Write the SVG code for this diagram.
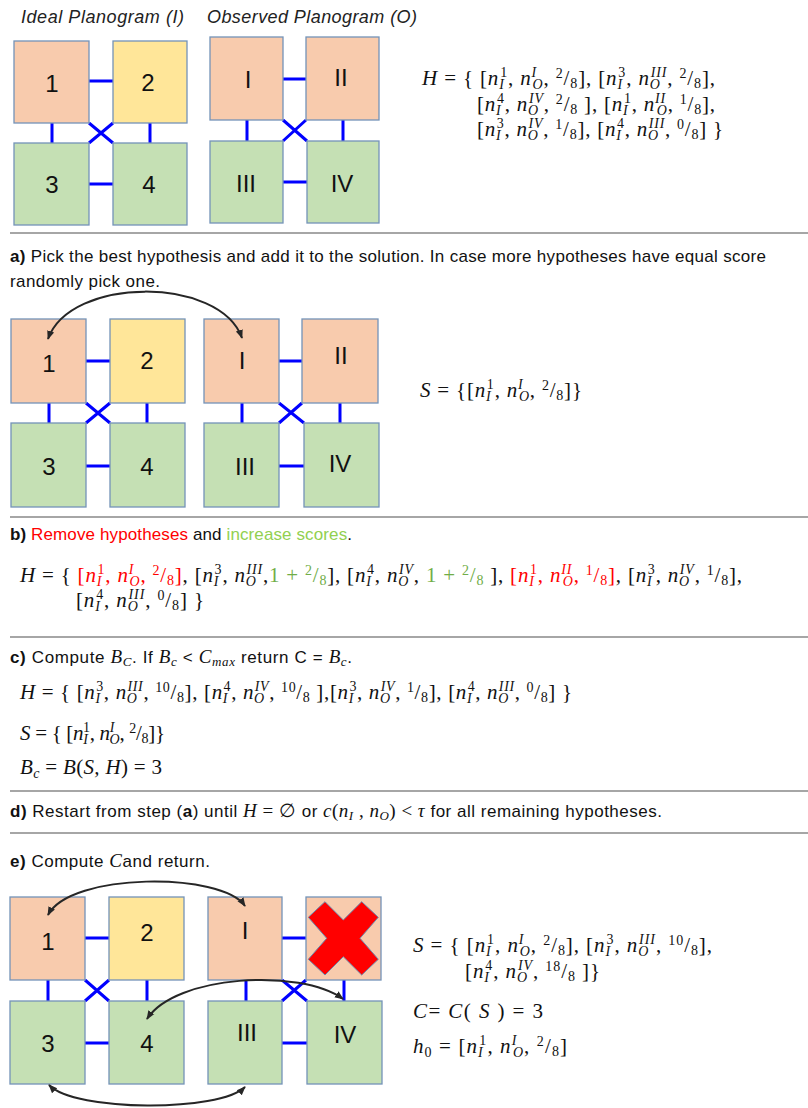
<svg xmlns="http://www.w3.org/2000/svg" width="808" height="1108" viewBox="0 0 808 1108">
<style>
.t{font-family:"Liberation Sans",Arial,sans-serif;font-size:17px;fill:#111}
.ti{font-family:"Liberation Sans",Arial,sans-serif;font-size:18px;font-style:italic;fill:#222}
.b{font-weight:bold}
.mi{font-family:"Liberation Serif","Times New Roman",serif;font-size:19px;font-style:italic}
.mf{font-family:"Liberation Serif","Times New Roman",serif;font-size:19px}
.m{font-family:"Liberation Serif","Times New Roman",serif;font-size:21px;fill:#111}
.i{font-style:italic}
.s{font-size:14px}
.ss{font-size:13px}
.r{fill:#FF0000}
.g{fill:#70AD47}
.g2{fill:#92D050}
.lbl{font-family:"Liberation Sans",Arial,sans-serif;font-size:24px;text-anchor:middle;fill:#111}
.o{fill:#F8CBAD;stroke:#7393B8;stroke-width:1.3}
.y{fill:#FFE699;stroke:#7393B8;stroke-width:1.3}
.gr{fill:#C5E0B4;stroke:#7393B8;stroke-width:1.3}
.lk{stroke:#0000FF;stroke-width:3;fill:none}
.ar{stroke:#262626;stroke-width:2;fill:none}
.sep{stroke:#A6A6A6;stroke-width:2}
</style>
<defs>
<marker id="ah" viewBox="0 0 10 10" refX="9" refY="5" markerWidth="9" markerHeight="9" markerUnits="userSpaceOnUse" orient="auto-start-reverse"><path d="M0,1 L10,5 L0,9 z" fill="#262626"/></marker>
</defs>

<g id="separators">
<line class="sep" x1="10" y1="233" x2="808" y2="233"/>
<line class="sep" x1="10" y1="517" x2="808" y2="517"/>
<line class="sep" x1="10" y1="637" x2="808" y2="637"/>
<line class="sep" x1="10" y1="791" x2="808" y2="791"/>
<line class="sep" x1="10" y1="833" x2="808" y2="833"/>
</g>

<text class="ti" x="21" y="23" textLength="163">Ideal Planogram (I)</text>
<text class="ti" x="207" y="23" textLength="210">Observed Planogram (O)</text>

<text class="m" x="422" y="85" textLength="293"><tspan class="i">H</tspan> = { [<tspan class="i">n</tspan><tspan class="s i" dy="4">I</tspan><tspan class="s" dx="-4.6" dy="-12">1</tspan><tspan dy="8">, </tspan><tspan class="i">n</tspan><tspan class="s i" dy="-8">I</tspan><tspan class="s i" dx="-4.6" dy="12">O</tspan><tspan dy="-4">, </tspan><tspan class="s" dy="-7">2</tspan><tspan dy="7">/</tspan><tspan class="s" dy="3">8</tspan><tspan dy="-3">], [</tspan><tspan class="i">n</tspan><tspan class="s i" dy="4">I</tspan><tspan class="s" dx="-4.6" dy="-12">3</tspan><tspan dy="8">, </tspan><tspan class="i">n</tspan><tspan class="s i" dy="4">O</tspan><tspan class="s i" dx="-10.1" dy="-12">III</tspan><tspan dy="8">, </tspan><tspan class="s" dy="-7">2</tspan><tspan dy="7">/</tspan><tspan class="s" dy="3">8</tspan><tspan dy="-3">],</tspan></text>
<text class="m" x="477" y="111" textLength="238">[<tspan class="i">n</tspan><tspan class="s i" dy="4">I</tspan><tspan class="s" dx="-4.6" dy="-12">4</tspan><tspan dy="8">, </tspan><tspan class="i">n</tspan><tspan class="s i" dy="4">O</tspan><tspan class="s i" dx="-10.1" dy="-12">IV</tspan><tspan dy="8">, </tspan><tspan class="s" dy="-7">2</tspan><tspan dy="7">/</tspan><tspan class="s" dy="3">8</tspan><tspan dy="-3"> ], [</tspan><tspan class="i">n</tspan><tspan class="s i" dy="4">I</tspan><tspan class="s" dx="-4.6" dy="-12">1</tspan><tspan dy="8">, </tspan><tspan class="i">n</tspan><tspan class="s i" dy="-8">II</tspan><tspan class="s i" dx="-9.3" dy="12">O</tspan><tspan dy="-4">, </tspan><tspan class="s" dy="-7">1</tspan><tspan dy="7">/</tspan><tspan class="s" dy="3">8</tspan><tspan dy="-3">],</tspan></text>
<text class="m" x="477" y="136" textLength="246">[<tspan class="i">n</tspan><tspan class="s i" dy="4">I</tspan><tspan class="s" dx="-4.6" dy="-12">3</tspan><tspan dy="8">, </tspan><tspan class="i">n</tspan><tspan class="s i" dy="4">O</tspan><tspan class="s i" dx="-10.1" dy="-12">IV</tspan><tspan dy="8">, </tspan><tspan class="s" dy="-7">1</tspan><tspan dy="7">/</tspan><tspan class="s" dy="3">8</tspan><tspan dy="-3">], [</tspan><tspan class="i">n</tspan><tspan class="s i" dy="4">I</tspan><tspan class="s" dx="-4.6" dy="-12">4</tspan><tspan dy="8">, </tspan><tspan class="i">n</tspan><tspan class="s i" dy="4">O</tspan><tspan class="s i" dx="-10.1" dy="-12">III</tspan><tspan dy="8">, </tspan><tspan class="s" dy="-7">0</tspan><tspan dy="7">/</tspan><tspan class="s" dy="3">8</tspan><tspan dy="-3">] }</tspan></text>

<text class="t" x="10" y="262" textLength="756"><tspan class="b">a)</tspan> Pick the best hypothesis and add it to the solution. In case more hypotheses have equal score</text>
<text class="t" x="10" y="287" textLength="150">randomly pick one.</text>

<text class="m" x="420" y="397" textLength="162"><tspan class="i">S</tspan> = {[<tspan class="i">n</tspan><tspan class="s i" dy="4">I</tspan><tspan class="s" dx="-4.6" dy="-12">1</tspan><tspan dy="8">, </tspan><tspan class="i">n</tspan><tspan class="s i" dy="-8">I</tspan><tspan class="s i" dx="-4.6" dy="12">O</tspan><tspan dy="-4">, </tspan><tspan class="s" dy="-7">2</tspan><tspan dy="7">/</tspan><tspan class="s" dy="3">8</tspan><tspan dy="-3">]}</tspan></text>

<text class="t" x="10" y="540" textLength="342"><tspan class="b">b)</tspan> <tspan class="r">Remove hypotheses</tspan> and <tspan class="g2">increase scores</tspan>.</text>

<text class="m" x="20" y="582" textLength="722"><tspan class="i">H</tspan> = { <tspan class="r">[<tspan class="i">n</tspan><tspan class="s i" dy="4">I</tspan><tspan class="s" dx="-4.6" dy="-12">1</tspan><tspan dy="8">, </tspan><tspan class="i">n</tspan><tspan class="s i" dy="-8">I</tspan><tspan class="s i" dx="-4.6" dy="12">O</tspan><tspan dy="-4">, </tspan><tspan class="s" dy="-7">2</tspan><tspan dy="7">/</tspan><tspan class="s" dy="3">8</tspan><tspan dy="-3">]</tspan></tspan>, [<tspan class="i">n</tspan><tspan class="s i" dy="4">I</tspan><tspan class="s" dx="-4.6" dy="-12">3</tspan><tspan dy="8">, </tspan><tspan class="i">n</tspan><tspan class="s i" dy="4">O</tspan><tspan class="s i" dx="-10.1" dy="-12">III</tspan><tspan dy="8">,</tspan><tspan class="g">1 + <tspan class="s" dy="-7">2</tspan><tspan dy="7">/</tspan><tspan class="s" dy="3">8</tspan></tspan><tspan dy="-3">], [</tspan><tspan class="i">n</tspan><tspan class="s i" dy="4">I</tspan><tspan class="s" dx="-4.6" dy="-12">4</tspan><tspan dy="8">, </tspan><tspan class="i">n</tspan><tspan class="s i" dy="4">O</tspan><tspan class="s i" dx="-10.1" dy="-12">IV</tspan><tspan dy="8">, </tspan><tspan class="g">1 + <tspan class="s" dy="-7">2</tspan><tspan dy="7">/</tspan><tspan class="s" dy="3">8</tspan></tspan><tspan dy="-3"> ], </tspan><tspan class="r">[<tspan class="i">n</tspan><tspan class="s i" dy="4">I</tspan><tspan class="s" dx="-4.6" dy="-12">1</tspan><tspan dy="8">, </tspan><tspan class="i">n</tspan><tspan class="s i" dy="-8">II</tspan><tspan class="s i" dx="-9.3" dy="12">O</tspan><tspan dy="-4">, </tspan><tspan class="s" dy="-7">1</tspan><tspan dy="7">/</tspan><tspan class="s" dy="3">8</tspan><tspan dy="-3">]</tspan></tspan>, [<tspan class="i">n</tspan><tspan class="s i" dy="4">I</tspan><tspan class="s" dx="-4.6" dy="-12">3</tspan><tspan dy="8">, </tspan><tspan class="i">n</tspan><tspan class="s i" dy="4">O</tspan><tspan class="s i" dx="-10.1" dy="-12">IV</tspan><tspan dy="8">, </tspan><tspan class="s" dy="-7">1</tspan><tspan dy="7">/</tspan><tspan class="s" dy="3">8</tspan><tspan dy="-3">],</tspan></text>
<text class="m" x="76" y="607" textLength="128">[<tspan class="i">n</tspan><tspan class="s i" dy="4">I</tspan><tspan class="s" dx="-4.6" dy="-12">4</tspan><tspan dy="8">, </tspan><tspan class="i">n</tspan><tspan class="s i" dy="4">O</tspan><tspan class="s i" dx="-10.1" dy="-12">III</tspan><tspan dy="8">, </tspan><tspan class="s" dy="-7">0</tspan><tspan dy="7">/</tspan><tspan class="s" dy="3">8</tspan><tspan dy="-3">] }</tspan></text>

<text class="t" x="10" y="663" textLength="342"><tspan class="b">c)</tspan> Compute <tspan class="mi">B</tspan><tspan class="mi ss" dy="3">C</tspan><tspan dy="-3">. If </tspan><tspan class="mi">B</tspan><tspan class="mi ss" dy="3">c</tspan><tspan dy="-3"> &lt; </tspan><tspan class="mi">C</tspan><tspan class="mi ss" dy="3">max</tspan><tspan dy="-3"> return C = </tspan><tspan class="mi">B</tspan><tspan class="mi ss" dy="3">c</tspan><tspan dy="-3">.</tspan></text>

<text class="m" x="20" y="699" textLength="552"><tspan class="i">H</tspan> = { [<tspan class="i">n</tspan><tspan class="s i" dy="4">I</tspan><tspan class="s" dx="-4.6" dy="-12">3</tspan><tspan dy="8">, </tspan><tspan class="i">n</tspan><tspan class="s i" dy="4">O</tspan><tspan class="s i" dx="-10.1" dy="-12">III</tspan><tspan dy="8">, </tspan><tspan class="s" dy="-7">10</tspan><tspan dy="7">/</tspan><tspan class="s" dy="3">8</tspan><tspan dy="-3">], [</tspan><tspan class="i">n</tspan><tspan class="s i" dy="4">I</tspan><tspan class="s" dx="-4.6" dy="-12">4</tspan><tspan dy="8">, </tspan><tspan class="i">n</tspan><tspan class="s i" dy="4">O</tspan><tspan class="s i" dx="-10.1" dy="-12">IV</tspan><tspan dy="8">, </tspan><tspan class="s" dy="-7">10</tspan><tspan dy="7">/</tspan><tspan class="s" dy="3">8</tspan><tspan dy="-3"> ],[</tspan><tspan class="i">n</tspan><tspan class="s i" dy="4">I</tspan><tspan class="s" dx="-4.6" dy="-12">3</tspan><tspan dy="8">, </tspan><tspan class="i">n</tspan><tspan class="s i" dy="4">O</tspan><tspan class="s i" dx="-10.1" dy="-12">IV</tspan><tspan dy="8">, </tspan><tspan class="s" dy="-7">1</tspan><tspan dy="7">/</tspan><tspan class="s" dy="3">8</tspan><tspan dy="-3">], [</tspan><tspan class="i">n</tspan><tspan class="s i" dy="4">I</tspan><tspan class="s" dx="-4.6" dy="-12">4</tspan><tspan dy="8">, </tspan><tspan class="i">n</tspan><tspan class="s i" dy="4">O</tspan><tspan class="s i" dx="-10.1" dy="-12">III</tspan><tspan dy="8">, </tspan><tspan class="s" dy="-7">0</tspan><tspan dy="7">/</tspan><tspan class="s" dy="3">8</tspan><tspan dy="-3">] }</tspan></text>
<text class="m" x="20" y="740" textLength="145"><tspan class="i">S</tspan> = { [<tspan class="i">n</tspan><tspan class="s i" dy="4">I</tspan><tspan class="s" dx="-4.6" dy="-12">1</tspan><tspan dy="8">, </tspan><tspan class="i">n</tspan><tspan class="s i" dy="-8">I</tspan><tspan class="s i" dx="-4.6" dy="12">O</tspan><tspan dy="-4">, </tspan><tspan class="s" dy="-7">2</tspan><tspan dy="7">/</tspan><tspan class="s" dy="3">8</tspan><tspan dy="-3">]}</tspan></text>
<text class="m" x="20" y="774" textLength="142"><tspan class="i">B</tspan><tspan class="s i" dy="4">c</tspan><tspan dy="-4"> = </tspan><tspan class="i">B</tspan>(<tspan class="i">S, H</tspan>) = 3</text>

<text class="t" x="10" y="817" textLength="652"><tspan class="b">d)</tspan> Restart from step (<tspan class="b">a</tspan>) until <tspan class="mi">H</tspan><tspan class="mf"> =  ∅</tspan> or <tspan class="mi">c</tspan><tspan class="mf">(</tspan><tspan class="mi">n</tspan><tspan class="mi ss" dy="3">I</tspan><tspan class="mf" dy="-3"> , </tspan><tspan class="mi">n</tspan><tspan class="mi ss" dy="3">O</tspan><tspan class="mf" dy="-3">) &lt; </tspan><tspan class="mi">τ</tspan> for all remaining hypotheses.</text>

<text class="t" x="10" y="867" textLength="200"><tspan class="b">e)</tspan> Compute <tspan class="mi">C</tspan>and return.</text>

<text class="m" x="413" y="952" textLength="299"><tspan class="i">S</tspan> = { [<tspan class="i">n</tspan><tspan class="s i" dy="4">I</tspan><tspan class="s" dx="-4.6" dy="-12">1</tspan><tspan dy="8">, </tspan><tspan class="i">n</tspan><tspan class="s i" dy="-8">I</tspan><tspan class="s i" dx="-4.6" dy="12">O</tspan><tspan dy="-4">, </tspan><tspan class="s" dy="-7">2</tspan><tspan dy="7">/</tspan><tspan class="s" dy="3">8</tspan><tspan dy="-3">], [</tspan><tspan class="i">n</tspan><tspan class="s i" dy="4">I</tspan><tspan class="s" dx="-4.6" dy="-12">3</tspan><tspan dy="8">, </tspan><tspan class="i">n</tspan><tspan class="s i" dy="4">O</tspan><tspan class="s i" dx="-10.1" dy="-12">III</tspan><tspan dy="8">, </tspan><tspan class="s" dy="-7">10</tspan><tspan dy="7">/</tspan><tspan class="s" dy="3">8</tspan><tspan dy="-3">],</tspan></text>
<text class="m" x="465" y="978" textLength="135">[<tspan class="i">n</tspan><tspan class="s i" dy="4">I</tspan><tspan class="s" dx="-4.6" dy="-12">4</tspan><tspan dy="8">, </tspan><tspan class="i">n</tspan><tspan class="s i" dy="4">O</tspan><tspan class="s i" dx="-10.1" dy="-12">IV</tspan><tspan dy="8">, </tspan><tspan class="s" dy="-7">18</tspan><tspan dy="7">/</tspan><tspan class="s" dy="3">8</tspan><tspan dy="-3"> ]}</tspan></text>
<text class="m" x="413" y="1018" textLength="130"><tspan class="i">C</tspan>= <tspan class="i">C</tspan>( <tspan class="i">S</tspan> ) = 3</text>
<text class="m" x="413" y="1053" textLength="154"><tspan class="i">h</tspan><tspan class="s" dy="4">0</tspan><tspan dy="-4"> = [</tspan><tspan class="i">n</tspan><tspan class="s i" dy="4">I</tspan><tspan class="s" dx="-4.6" dy="-12">1</tspan><tspan dy="8">, </tspan><tspan class="i">n</tspan><tspan class="s i" dy="-8">I</tspan><tspan class="s i" dx="-4.6" dy="12">O</tspan><tspan dy="-4">, </tspan><tspan class="s" dy="-7">2</tspan><tspan dy="7">/</tspan><tspan class="s" dy="3">8</tspan><tspan dy="-3">]</tspan></text>

<g id="links">
<path class="lk" d="M89,81H113 M89,184H113 M52,123V143 M150,123V143 M89,143L113,123 M89,123L113,143"/>
<path class="lk" d="M283,79H306 M283,182H307 M247,120V141 M343,120V141 M283,141L306,120 M283,120L307,141"/>
<path class="lk" d="M86,361H110 M86,466H110 M49,403V423 M147,403V423 M86,423L110,403 M86,403L110,423"/>
<path class="lk" d="M279,361H302 M279,466H304 M242,403V423 M340,403V423 M279,423L302,403 M279,403L304,423"/>
<path class="lk" d="M85,938H109 M85,1043H109 M48,980V1001 M147,980V1001 M85,1001L109,980 M85,980L109,1001"/>
<path class="lk" d="M282,938H306 M282,1043H307 M246,980V1001 M344,980V1001 M282,1001L306,980 M282,980L307,1001"/>
</g>

<g id="top-1"><rect class="o" x="14" y="41" width="75" height="82"/><text class="lbl" x="52" y="91.5">1</text></g>
<g id="top-2"><rect class="y" x="113" y="41" width="74" height="82"/><text class="lbl" x="148" y="90.5">2</text></g>
<g id="top-3"><rect class="gr" x="14" y="143" width="75" height="82"/><text class="lbl" x="52" y="192.5">3</text></g>
<g id="top-4"><rect class="gr" x="113" y="143" width="74" height="82"/><text class="lbl" x="149" y="192.5">4</text></g>
<g id="top-I"><rect class="o" x="210" y="37" width="73" height="83"/><text class="lbl" x="248" y="87.5">I</text></g>
<g id="top-II"><rect class="o" x="306" y="37" width="73" height="83"/><text class="lbl" x="341" y="85.5">II</text></g>
<g id="top-III"><rect class="gr" x="210" y="141" width="73" height="82"/><text class="lbl" x="246" y="191.5">III</text></g>
<g id="top-IV"><rect class="gr" x="307" y="141" width="72" height="82"/><text class="lbl" x="342" y="191.5">IV</text></g>

<g id="a-1"><rect class="o" x="11" y="319" width="75" height="84"/><text class="lbl" x="49" y="371.5">1</text></g>
<g id="a-2"><rect class="y" x="110" y="319" width="75" height="84"/><text class="lbl" x="147" y="368.5">2</text></g>
<g id="a-3"><rect class="gr" x="11" y="423" width="75" height="84"/><text class="lbl" x="49" y="474.5">3</text></g>
<g id="a-4"><rect class="gr" x="110" y="423" width="75" height="84"/><text class="lbl" x="147" y="474.5">4</text></g>
<g id="a-I"><rect class="o" x="204" y="319" width="75" height="84"/><text class="lbl" x="242" y="368.5">I</text></g>
<g id="a-II"><rect class="o" x="302" y="319" width="76" height="84"/><text class="lbl" x="341" y="363.5">II</text></g>
<g id="a-III"><rect class="gr" x="204" y="423" width="75" height="84"/><text class="lbl" x="245" y="474.5">III</text></g>
<g id="a-IV"><rect class="gr" x="304" y="423" width="75" height="84"/><text class="lbl" x="340" y="471.5">IV</text></g>

<g id="e-1"><rect class="o" x="10" y="897" width="75" height="83"/><text class="lbl" x="48" y="949.5">1</text></g>
<g id="e-2"><rect class="y" x="109" y="897" width="75" height="83"/><text class="lbl" x="147" y="940.5">2</text></g>
<g id="e-3"><rect class="gr" x="10" y="1001" width="75" height="83"/><text class="lbl" x="48" y="1051.5">3</text></g>
<g id="e-4"><rect class="gr" x="109" y="1001" width="75" height="83"/><text class="lbl" x="147" y="1051.5">4</text></g>
<g id="e-I"><rect class="o" x="208" y="897" width="74" height="83"/><text class="lbl" x="245" y="938.5">I</text></g>
<g id="e-II"><rect class="o" x="306" y="897" width="75" height="83"/><polygon points="308.3,917.3 325,901.7 343.3,920 361.7,901.7 378.3,917.3 360,938.3 378.3,959.3 361.7,975 343.3,956.7 325,975 308.3,959.3 326.7,938.3" fill="#FF0000" stroke="#6A8AAE" stroke-width="1"/></g>
<g id="e-III"><rect class="gr" x="208" y="1001" width="74" height="83"/><text class="lbl" x="247" y="1040.5">III</text></g>
<g id="e-IV"><rect class="gr" x="307" y="1001" width="75" height="83"/><text class="lbl" x="345" y="1042.5">IV</text></g>

<g id="arrows">
<path class="ar" d="M48,339 C70,276 220,276 242,338" marker-start="url(#ah)" marker-end="url(#ah)"/>
<path class="ar" d="M48,915 C70,872 222,872 245,906" marker-start="url(#ah)" marker-end="url(#ah)"/>
<path class="ar" d="M147,1019 C175,975 300,968 343,999" marker-start="url(#ah)" marker-end="url(#ah)"/>
<path class="ar" d="M49,1085 C75,1112 220,1112 245,1087" marker-start="url(#ah)" marker-end="url(#ah)"/>
</g>
</svg>
